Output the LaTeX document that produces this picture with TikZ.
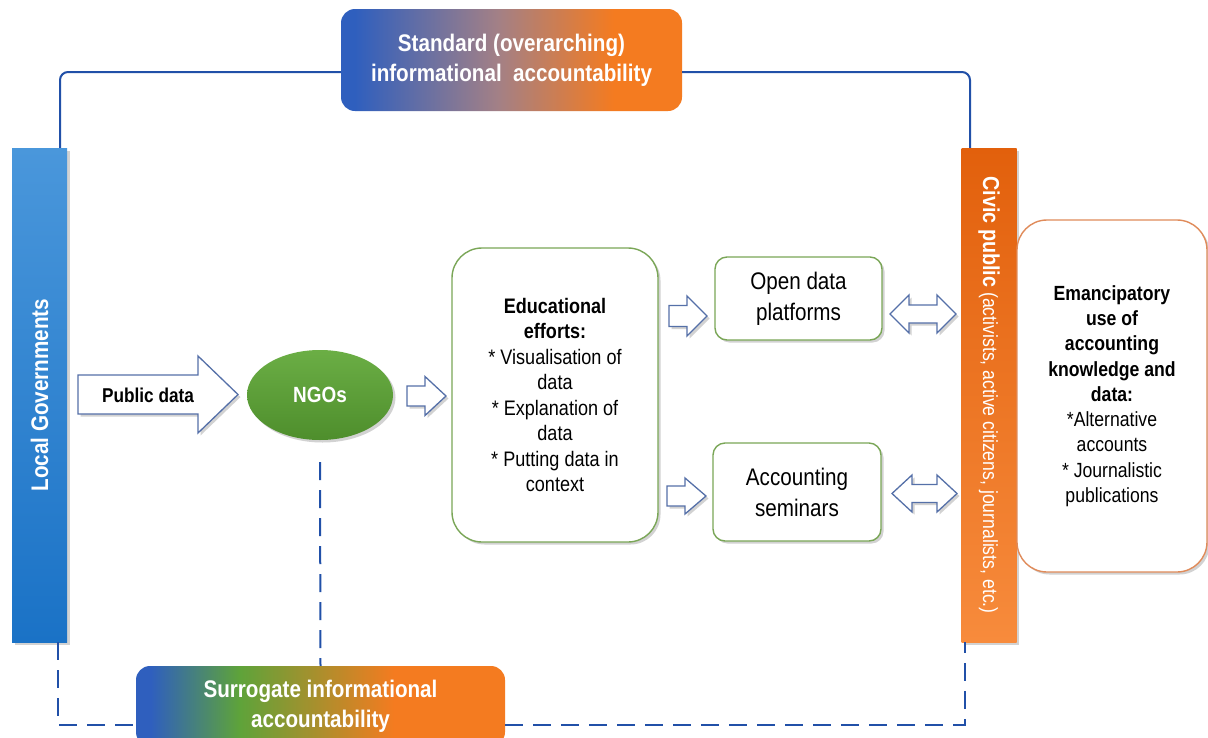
\documentclass[tikz,border=0pt]{standalone}
\usepackage{fontspec}
\setmainfont{Liberation Sans}[FakeStretch=0.86]
\usetikzlibrary{shadows,calc,shapes.geometric}
\definecolor{lnblue}{HTML}{2150A8}
\definecolor{gblue}{HTML}{2F5FBE}
\definecolor{gmauve}{HTML}{A38086}
\definecolor{gorange}{HTML}{F47B20}
\definecolor{ggreen}{HTML}{5EA33A}
\definecolor{lgtop}{HTML}{4A97DB}
\definecolor{lgbot}{HTML}{1A72C6}
\definecolor{cptop}{HTML}{E2600C}
\definecolor{cpbot}{HTML}{F78B3C}
\definecolor{ngotop}{HTML}{6BAE45}
\definecolor{ngobot}{HTML}{4E8E2C}
\definecolor{bxgreen}{HTML}{7AA657}
\definecolor{bxorange}{HTML}{E08B5A}
\definecolor{arrblue}{HTML}{5570A8}
\pgfdeclarehorizontalshading{stdgrad}{100bp}{color(0bp)=(gblue); color(27bp)=(gblue); color(48bp)=(gmauve); color(65bp)=(gorange); color(100bp)=(gorange)}
\pgfdeclarehorizontalshading{surgrad}{100bp}{color(0bp)=(gblue); color(27bp)=(gblue); color(39bp)=(ggreen); color(60bp)=(gorange); color(100bp)=(gorange)}
\tikzset{
  shad/.style={drop shadow={shadow xshift=2.5pt, shadow yshift=-2.5pt, opacity=0.25, fill=black!70}},
  barbox/.style={minimum width=55, minimum height=494, inner sep=0, shad},
  gradbox/.style={rounded corners=14, inner sep=0, text=white, align=center,
    font=\bfseries\fontsize{24}{30}\selectfont},
  greenbox/.style={draw=bxgreen, line width=1.4, fill=white, inner sep=0, align=center, shad},
  orangebox/.style={draw=bxorange, line width=1.4, fill=white, inner sep=0, align=center, shad},
  arrsty/.style={draw=arrblue, line width=1.3, fill=white, line join=miter, shad},
  conn/.style={draw=lnblue, line width=2, rounded corners=8},
  dconn/.style={draw=lnblue, line width=2, dash pattern=on 18pt off 10pt},
}
\newcommand\blkarrow[6]{\path[arrsty] (#1,#3-#4) -- (#2-#6,#3-#4) -- (#2-#6,#3-#5) -- (#2,#3) -- (#2-#6,#3+#5) -- (#2-#6,#3+#4) -- (#1,#3+#4) -- cycle;}
\newcommand\dblarrow[6]{\path[arrsty] (#1,#3) -- (#1+#6,#3-#5) -- (#1+#6,#3-#4) -- (#2-#6,#3-#4) -- (#2-#6,#3-#5) -- (#2,#3) -- (#2-#6,#3+#5) -- (#2-#6,#3+#4) -- (#1+#6,#3+#4) -- (#1+#6,#3+#5) -- cycle;}
\begin{document}
\begin{tikzpicture}[x=1pt,y=-1pt]
\useasboundingbox (0,0) rectangle (1208,737);
\clip (0,0) rectangle (1208,737);
\fill[white] (0,0) rectangle (1208,737);

% bars
\node[barbox, top color=lgtop, bottom color=lgbot] (lg) at (39.5,395) {};
\node[rotate=90, text=white, inner sep=0, font=\bfseries\fontsize{24}{28}\selectfont] (lgt) at (lg.center) {Local Governments};
\node[barbox, top color=cptop, bottom color=cpbot] (cp) at (989,395) {};
\node[rotate=-90, text=white, inner sep=0, font=\fontsize{20.5}{26}\selectfont] (cpt) at (cp.center) {{\bfseries\fontsize{23}{28}\selectfont Civic public} (activists, active citizens, journalists, etc.)};

% gradient title boxes
\node[gradbox, shading=stdgrad, minimum width=341, minimum height=102] (std) at (511.5,60) {Standard (overarching)\\informational\ \ accountability};
\node[gradbox, shading=surgrad, minimum width=369, minimum height=80] (sur) at (320.5,706) {Surrogate informational\\accountability};

% NGOs
\node[ellipse, minimum width=146, minimum height=90, inner sep=0, top color=ngotop, bottom color=ngobot, text=white, font=\bfseries\fontsize{22}{26}\selectfont, shad] (ngo) at (320,395) {NGOs};

% connectors
\draw[conn] ([xshift=20.5pt]lg.north) |- ([yshift=-12pt]std.west);
\draw[conn] ([yshift=-12pt]std.east) -| ([xshift=-19pt]cp.north);
\draw[dconn] ([xshift=18.5pt]lg.south) |- ([yshift=-19pt]sur.west);
\draw[dconn] ([yshift=-19pt]sur.east) -| ([xshift=-24pt]cp.south);
\draw[dconn] ([yshift=-22pt]ngo.south) -- (sur.north);

% boxes
\node[greenbox, minimum width=206, minimum height=294, rounded corners=30, font=\fontsize{21}{25.5}\selectfont] (edu) at (555,395)
  {\textbf{Educational}\\\textbf{efforts:}\\* Visualisation of\\data\\* Explanation of\\data\\* Putting data in\\context};
\node[greenbox, minimum width=167, minimum height=83, rounded corners=12, font=\fontsize{24}{31}\selectfont] (odp) at (798.5,298.5) {Open data\\platforms};
\node[greenbox, minimum width=168, minimum height=98, rounded corners=12, font=\fontsize{24}{31}\selectfont] (sem) at (797,492) {Accounting\\seminars};
\node[orangebox, minimum width=190, minimum height=352, rounded corners=30, font=\fontsize{20.5}{25.3}\selectfont] (em) at (1112,396)
  {\textbf{Emancipatory}\\\textbf{use of}\\\textbf{accounting}\\\textbf{knowledge and}\\\textbf{data:}\\*Alternative\\accounts\\* Journalistic\\publications};

% block arrows
\blkarrow{78}{238}{394.5}{19.5}{38.5}{40}
\node[inner sep=0, font=\bfseries\fontsize{20}{24}\selectfont] (pd) at (148,395) {Public data};
\blkarrow{407}{446}{396}{10}{19.5}{21}
\blkarrow{669}{707}{316}{10.5}{20}{20}
\blkarrow{667}{706}{496}{10}{18}{21}
\dblarrow{890}{956}{314}{9}{19}{19}
\dblarrow{892}{957}{493.5}{9}{18.5}{20}
\end{tikzpicture}
\end{document}
